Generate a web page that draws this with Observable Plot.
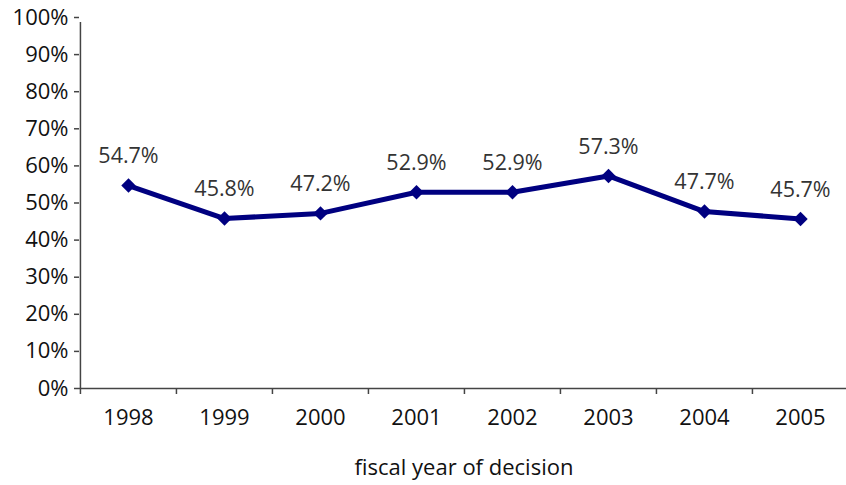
<!DOCTYPE html>
<html>
<head>
<meta charset="utf-8">
<script src="https://cdn.jsdelivr.net/npm/d3@7"></script>
<script src="https://cdn.jsdelivr.net/npm/@observablehq/plot@0.6"></script>
<style>
  html, body { margin: 0; padding: 0; background: #fff; }
</style>
</head>
<body>
<div id="chart"></div>
<script>
// Share of decisions per fiscal year
const years = ["1998", "1999", "2000", "2001", "2002", "2003", "2004", "2005"];
const shares = [0.547, 0.458, 0.472, 0.529, 0.529, 0.573, 0.477, 0.457];
const yTicks = [0, 0.1, 0.2, 0.3, 0.4, 0.5, 0.6, 0.7, 0.8, 0.9, 1.0];

const data = years.map((year, i) => ({year, share: shares[i]}));

const W = 846, H = 485;
const mLeft = 79, mRight = -2;
const bandwidth = (W - mRight - mLeft) / years.length;
const axisColor = "#444";
const navy = "#000080";

const chart = Plot.plot({
  width: W,
  height: H,
  marginLeft: mLeft,
  marginRight: mRight,
  marginTop: 17,
  marginBottom: 97,
  style: {fontFamily: "'Open Sans', sans-serif", fontSize: "22px", color: "#111", background: "#fff"},
  x: {type: "band", domain: years, padding: 0},
  y: {domain: [0, 1]},
  marks: [
    // axis lines
    Plot.ruleY([0], {stroke: axisColor, strokeWidth: 1.5}),
    Plot.ruleX([years[0]], {dx: -bandwidth / 2, y1: 0, y2: 1, insetBottom: -5, stroke: axisColor, strokeWidth: 1.5}),
    Plot.axisY({
      ticks: yTicks, tickFormat: d3.format(".0%"), tickSize: 5, tickPadding: 6,
      stroke: axisColor, strokeWidth: 1.5, label: null
    }),
    // year labels, centred in each band
    Plot.axisX({
      tickSize: 0, tickPadding: 21, label: "fiscal year of decision",
      labelAnchor: "center", labelArrow: "none", labelOffset: 86
    }),
    // band separators below the x axis
    Plot.axisX({
      tickSize: 6, text: null, label: null, dx: -bandwidth / 2,
      stroke: axisColor, strokeWidth: 1.5
    }),
    Plot.line(data, {x: "year", y: "share", stroke: navy, strokeWidth: 5, strokeLinejoin: "round"}),
    Plot.dot(data, {x: "year", y: "share", symbol: "diamond2", r: 6.5, fill: navy, stroke: "none"}),
    Plot.text(data, {
      x: "year", y: "share", text: d => d3.format(".1%")(d.share),
      dy: -29, fill: "#333", fontSize: 21.5, style: "letter-spacing: 1.6px"
    })
  ]
});

document.getElementById("chart").append(chart);
</script>
</body>
</html>
